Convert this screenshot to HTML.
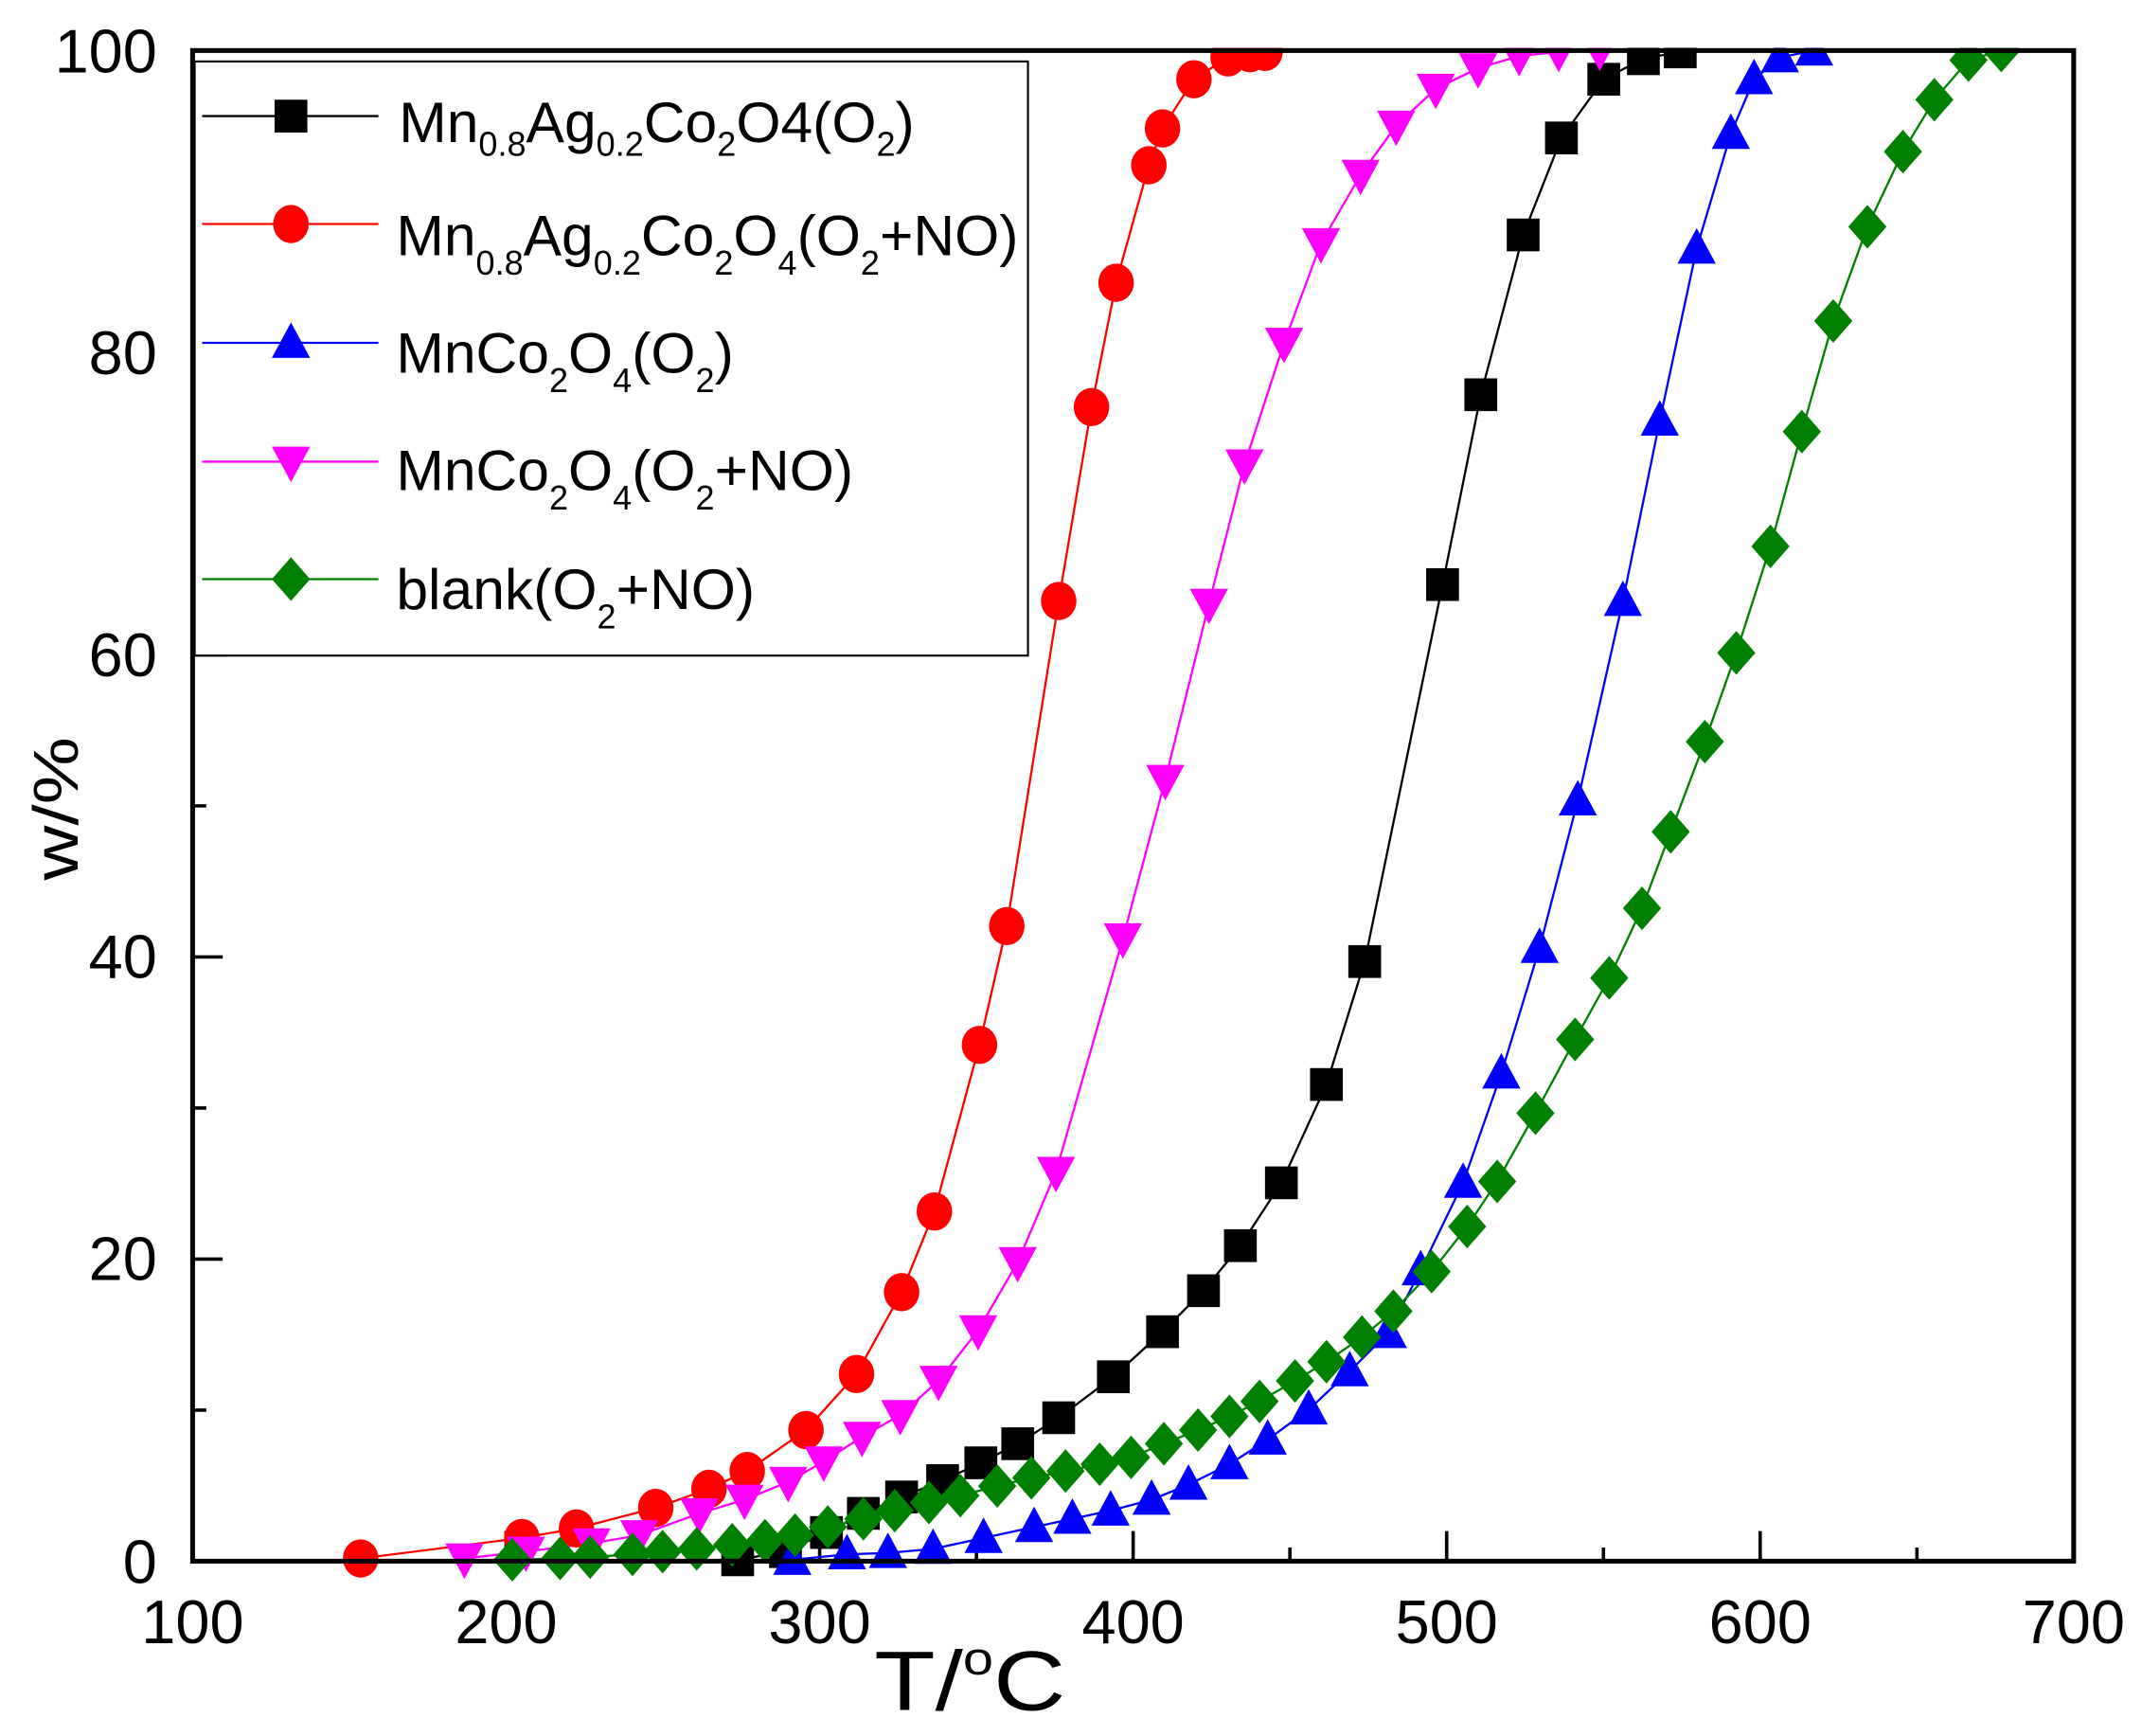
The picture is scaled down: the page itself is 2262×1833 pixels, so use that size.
<!DOCTYPE html>
<html><head><meta charset="utf-8"><style>
html,body{margin:0;padding:0;background:#fff;}
svg{display:block;}
text{font-family:"Liberation Sans",Arial,sans-serif;fill:#000;}
</style></head><body>
<svg width="2262" height="1833" viewBox="0 0 1568 1271" preserveAspectRatio="none" xmlns="http://www.w3.org/2000/svg">
<defs>
<rect id="sq" x="-12" y="-12" width="24" height="24" fill="#000"/>
<ellipse id="ci" cx="0" cy="0" rx="13" ry="14" fill="#f00"/>
<polygon id="tu" points="0,-15 14,11 -14,11" fill="#00f"/>
<polygon id="td" points="0,15 14,-11 -14,-11" fill="#f0f"/>
<polygon id="di" points="0,-16 14,0 0,16 -14,0" fill="#008000"/>
</defs>
<g stroke="#000" stroke-width="2.5">
<path d="M370.5,1143v-22M600,1143v-22M829.5,1143v-22M1059,1143v-22M1288.5,1143v-22
M255.75,1143v-10M485.25,1143v-10M714.75,1143v-10M944.25,1143v-10M1173.75,1143v-10M1403.25,1143v-10
M141,921.8h22M141,700.6h22M141,479.4h22M141,258.2h22
M141,1032.4h10M141,811.2h10M141,590h10M141,368.8h10M141,147.6h10"/>
</g>
<g fill="none" stroke-width="1.6">
<polyline stroke="#000" points="540,1142 575,1136 605,1122 632,1108 660,1096 690,1084 718,1071 745,1057 775,1038 815,1008 851,975 881,945 908,912 938,866 971,794 999,704 1056,428 1084,289 1115,172 1143,101 1174,58 1203,43 1230,38"/>
<polyline stroke="#f00" points="264,1141 382,1126 422,1119 480,1104 519,1090 547,1077 590,1047 627,1006 660,946 684,887 717,765 737,678 775,440 799,298 817,207 841,121 851,94 874,58 899,42 915,39 926,38"/>
<polyline stroke="#00f" points="580,1142 620,1138 650,1137 683,1134 720,1126 757,1118 785,1112 813,1106 843,1098 870,1087 900,1072 928,1054 958,1032 988,1004 1016,976 1040,930 1071,866 1099,786 1127,694 1155,586 1188,440 1215,308 1242,182 1267,98 1284,58 1303,42 1328,37"/>
<polyline stroke="#f0f" points="340,1141 385,1136 433,1130 468,1124 512,1108 545,1098 577,1085 603,1070 631,1052 659,1036 687,1011 716,974 745,924 773,858 822,687 853,571 885,442 911,340 940,251 967,178 996,128 1022,92 1051,65 1082,50 1112,41 1141,38 1171,37"/>
<polyline stroke="#008000" points="375,1142 410,1141 432,1140 463,1138 485,1136 510,1134 536,1131 560,1128 582,1124 606,1118 632,1112 655,1106 680,1100 703,1095 730,1088 755,1082 780,1077 805,1072 828,1067 852,1057 877,1047 900,1037 922,1026 948,1011 971,997 997,979 1020,960 1048,931 1074,898 1096,865 1124,815 1153,761 1178,716 1202,665 1223,609 1248,543 1271,478 1296,400 1319,316 1342,235 1367,166 1393,111 1416,73 1441,44 1465,37"/>
</g>
<g>
<use href="#sq" x="540" y="1142"/><use href="#sq" x="575" y="1136"/><use href="#sq" x="605" y="1122"/><use href="#sq" x="632" y="1108"/><use href="#sq" x="660" y="1096"/><use href="#sq" x="690" y="1084"/><use href="#sq" x="718" y="1071"/><use href="#sq" x="745" y="1057"/><use href="#sq" x="775" y="1038"/><use href="#sq" x="815" y="1008"/><use href="#sq" x="851" y="975"/><use href="#sq" x="881" y="945"/><use href="#sq" x="908" y="912"/><use href="#sq" x="938" y="866"/><use href="#sq" x="971" y="794"/><use href="#sq" x="999" y="704"/><use href="#sq" x="1056" y="428"/><use href="#sq" x="1084" y="289"/><use href="#sq" x="1115" y="172"/><use href="#sq" x="1143" y="101"/><use href="#sq" x="1174" y="58"/><use href="#sq" x="1203" y="43"/><use href="#sq" x="1230" y="38"/>
</g>
<g>
<use href="#ci" x="264" y="1141"/><use href="#ci" x="382" y="1126"/><use href="#ci" x="422" y="1119"/><use href="#ci" x="480" y="1104"/><use href="#ci" x="519" y="1090"/><use href="#ci" x="547" y="1077"/><use href="#ci" x="590" y="1047"/><use href="#ci" x="627" y="1006"/><use href="#ci" x="660" y="946"/><use href="#ci" x="684" y="887"/><use href="#ci" x="717" y="765"/><use href="#ci" x="737" y="678"/><use href="#ci" x="775" y="440"/><use href="#ci" x="799" y="298"/><use href="#ci" x="817" y="207"/><use href="#ci" x="841" y="121"/><use href="#ci" x="851" y="94"/><use href="#ci" x="874" y="58"/><use href="#ci" x="899" y="42"/><use href="#ci" x="915" y="39"/><use href="#ci" x="926" y="38"/>
</g>
<g>
<use href="#tu" x="580" y="1142"/><use href="#tu" x="620" y="1138"/><use href="#tu" x="650" y="1137"/><use href="#tu" x="683" y="1134"/><use href="#tu" x="720" y="1126"/><use href="#tu" x="757" y="1118"/><use href="#tu" x="785" y="1112"/><use href="#tu" x="813" y="1106"/><use href="#tu" x="843" y="1098"/><use href="#tu" x="870" y="1087"/><use href="#tu" x="900" y="1072"/><use href="#tu" x="928" y="1054"/><use href="#tu" x="958" y="1032"/><use href="#tu" x="988" y="1004"/><use href="#tu" x="1016" y="976"/><use href="#tu" x="1040" y="930"/><use href="#tu" x="1071" y="866"/><use href="#tu" x="1099" y="786"/><use href="#tu" x="1127" y="694"/><use href="#tu" x="1155" y="586"/><use href="#tu" x="1188" y="440"/><use href="#tu" x="1215" y="308"/><use href="#tu" x="1242" y="182"/><use href="#tu" x="1267" y="98"/><use href="#tu" x="1284" y="58"/><use href="#tu" x="1303" y="42"/><use href="#tu" x="1328" y="37"/>
</g>
<g>
<use href="#td" x="340" y="1141"/><use href="#td" x="385" y="1136"/><use href="#td" x="433" y="1130"/><use href="#td" x="468" y="1124"/><use href="#td" x="512" y="1108"/><use href="#td" x="545" y="1098"/><use href="#td" x="577" y="1085"/><use href="#td" x="603" y="1070"/><use href="#td" x="631" y="1052"/><use href="#td" x="659" y="1036"/><use href="#td" x="687" y="1011"/><use href="#td" x="716" y="974"/><use href="#td" x="745" y="924"/><use href="#td" x="773" y="858"/><use href="#td" x="822" y="687"/><use href="#td" x="853" y="571"/><use href="#td" x="885" y="442"/><use href="#td" x="911" y="340"/><use href="#td" x="940" y="251"/><use href="#td" x="967" y="178"/><use href="#td" x="996" y="128"/><use href="#td" x="1022" y="92"/><use href="#td" x="1051" y="65"/><use href="#td" x="1082" y="50"/><use href="#td" x="1112" y="41"/><use href="#td" x="1141" y="38"/><use href="#td" x="1171" y="37"/>
</g>
<g>
<use href="#di" x="375" y="1142"/><use href="#di" x="410" y="1141"/><use href="#di" x="432" y="1140"/><use href="#di" x="463" y="1138"/><use href="#di" x="485" y="1136"/><use href="#di" x="510" y="1134"/><use href="#di" x="536" y="1131"/><use href="#di" x="560" y="1128"/><use href="#di" x="582" y="1124"/><use href="#di" x="606" y="1118"/><use href="#di" x="632" y="1112"/><use href="#di" x="655" y="1106"/><use href="#di" x="680" y="1100"/><use href="#di" x="703" y="1095"/><use href="#di" x="730" y="1088"/><use href="#di" x="755" y="1082"/><use href="#di" x="780" y="1077"/><use href="#di" x="805" y="1072"/><use href="#di" x="828" y="1067"/><use href="#di" x="852" y="1057"/><use href="#di" x="877" y="1047"/><use href="#di" x="900" y="1037"/><use href="#di" x="922" y="1026"/><use href="#di" x="948" y="1011"/><use href="#di" x="971" y="997"/><use href="#di" x="997" y="979"/><use href="#di" x="1020" y="960"/><use href="#di" x="1048" y="931"/><use href="#di" x="1074" y="898"/><use href="#di" x="1096" y="865"/><use href="#di" x="1124" y="815"/><use href="#di" x="1153" y="761"/><use href="#di" x="1178" y="716"/><use href="#di" x="1202" y="665"/><use href="#di" x="1223" y="609"/><use href="#di" x="1248" y="543"/><use href="#di" x="1271" y="478"/><use href="#di" x="1296" y="400"/><use href="#di" x="1319" y="316"/><use href="#di" x="1342" y="235"/><use href="#di" x="1367" y="166"/><use href="#di" x="1393" y="111"/><use href="#di" x="1416" y="73"/><use href="#di" x="1441" y="44"/><use href="#di" x="1465" y="37"/>
</g>
<rect x="130" y="0" width="1420" height="35" fill="#fff"/>
<rect x="141" y="37" width="1377" height="1106" fill="none" stroke="#000" stroke-width="3.5"/>
<rect x="142.5" y="45" width="610" height="435" fill="#fff" stroke="#000" stroke-width="1.5"/>
<g stroke-width="1.6">
<line x1="148" y1="85" x2="277" y2="85" stroke="#000"/><use href="#sq" x="213" y="85"/>
<line x1="148" y1="164" x2="277" y2="164" stroke="#f00"/><use href="#ci" x="213" y="164"/>
<line x1="148" y1="251" x2="277" y2="251" stroke="#00f"/><use href="#tu" x="213" y="251"/>
<line x1="148" y1="338" x2="277" y2="338" stroke="#f0f"/><use href="#td" x="213" y="338"/>
<line x1="148" y1="424" x2="277" y2="424" stroke="#008000"/><use href="#di" x="213" y="424"/>
</g>
<g font-size="42">
<text x="292" y="104">Mn<tspan font-size="25" dy="10">0.8</tspan><tspan dy="-10">Ag</tspan><tspan font-size="25" dy="10">0.2</tspan><tspan dy="-10">Co</tspan><tspan font-size="25" dy="10">2</tspan><tspan dy="-10">O4(O</tspan><tspan font-size="25" dy="10">2</tspan><tspan dy="-10">)</tspan></text>
<text x="290" y="187">Mn<tspan font-size="25" dy="14">0.8</tspan><tspan dy="-14">Ag</tspan><tspan font-size="25" dy="14">0.2</tspan><tspan dy="-14">Co</tspan><tspan font-size="25" dy="14">2</tspan><tspan dy="-14">O</tspan><tspan font-size="25" dy="14">4</tspan><tspan dy="-14">(O</tspan><tspan font-size="25" dy="14">2</tspan><tspan dy="-14">+NO)</tspan></text>
<text x="290" y="273">MnCo<tspan font-size="25" dy="14">2</tspan><tspan dy="-14">O</tspan><tspan font-size="25" dy="14">4</tspan><tspan dy="-14">(O</tspan><tspan font-size="25" dy="14">2</tspan><tspan dy="-14">)</tspan></text>
<text x="290" y="359">MnCo<tspan font-size="25" dy="14">2</tspan><tspan dy="-14">O</tspan><tspan font-size="25" dy="14">4</tspan><tspan dy="-14">(O</tspan><tspan font-size="25" dy="14">2</tspan><tspan dy="-14">+NO)</tspan></text>
<text x="290" y="446">blank(O<tspan font-size="25" dy="14">2</tspan><tspan dy="-14">+NO)</tspan></text>
</g>
<g font-size="45" text-anchor="end">
<text x="115" y="1159">0</text>
<text x="115" y="937">20</text>
<text x="115" y="716">40</text>
<text x="115" y="495">60</text>
<text x="115" y="274">80</text>
<text x="115" y="53">100</text>
</g>
<g font-size="45" text-anchor="middle">
<text x="141" y="1203">100</text>
<text x="370.5" y="1203">200</text>
<text x="600" y="1203">300</text>
<text x="829.5" y="1203">400</text>
<text x="1059" y="1203">500</text>
<text x="1288.5" y="1203">600</text>
<text x="1518" y="1203">700</text>
</g>
<text x="640" y="1252" font-size="62" textLength="140" lengthAdjust="spacingAndGlyphs">T/<tspan font-size="34" dy="-26">o</tspan><tspan dy="26">C</tspan></text>
<text transform="translate(57,592) rotate(-90)" font-size="46" text-anchor="middle" textLength="105" lengthAdjust="spacingAndGlyphs">w/%</text>
</svg>
</body></html>
